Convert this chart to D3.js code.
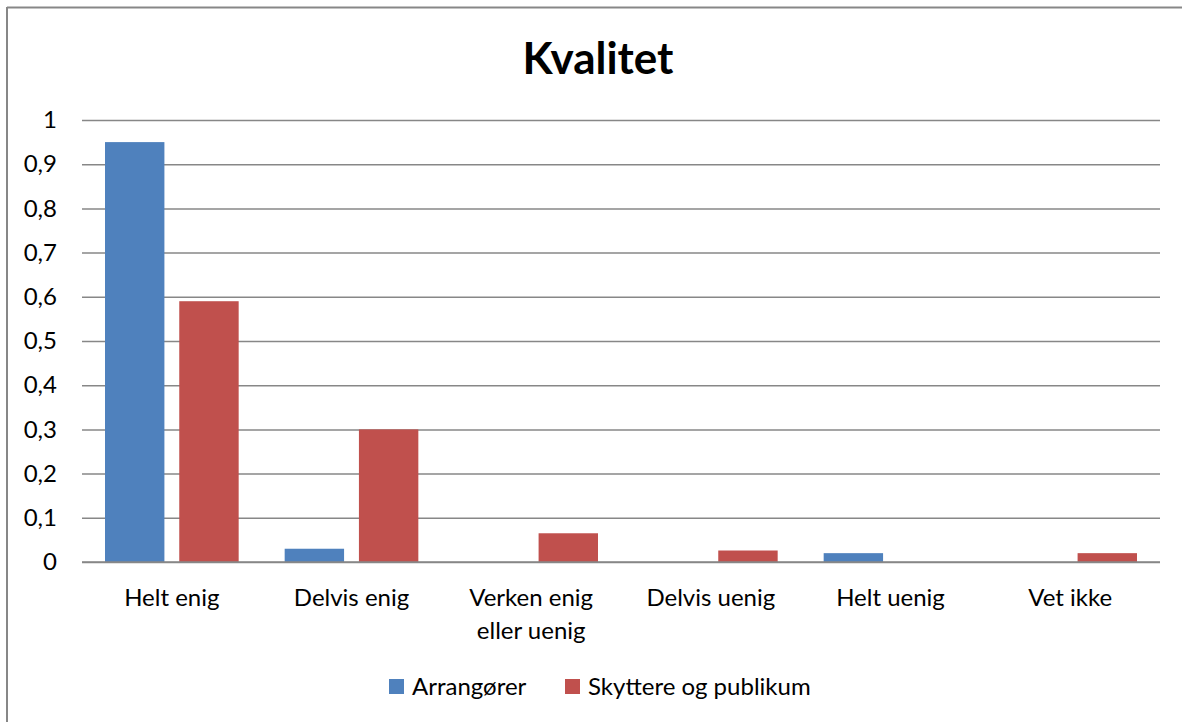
<!DOCTYPE html>
<html>
<head>
<meta charset="utf-8">
<script src="https://cdn.jsdelivr.net/npm/d3@7"></script>
<style>
  html, body { margin: 0; padding: 0; background: #fff; }
  svg { display: block; }
  text { font-family: Lato, "Open Sans", sans-serif; fill: #000; }
</style>
</head>
<body>
<svg id="chart" width="1182" height="722"></svg>
<script>
const title = "Kvalitet";
const categories = [["Helt enig"], ["Delvis enig"], ["Verken enig", "eller uenig"], ["Delvis uenig"], ["Helt uenig"], ["Vet ikke"]];
const seriesNames = ["Arrangører", "Skyttere og publikum"];
const arrangorer = [0.95, 0.03, 0, 0, 0.02, 0];
const skyttere = [0.59, 0.30, 0.065, 0.026, 0, 0.02];
const yTicks = [0, 0.1, 0.2, 0.3, 0.4, 0.5, 0.6, 0.7, 0.8, 0.9, 1];
const colors = ["#4F81BD", "#C0504D"];

const seriesValues = [arrangorer, skyttere];
const svg = d3.select("#chart");

// chart border (top and left visible)
svg.append("line").attr("x1", 7).attr("x2", 1182).attr("y1", 7.5).attr("y2", 7.5)
  .attr("stroke", "#878787").attr("stroke-width", 2);
svg.append("line").attr("x1", 7).attr("x2", 7).attr("y1", 7).attr("y2", 722)
  .attr("stroke", "#878787").attr("stroke-width", 2);

const plotL = 82, plotR = 1160, plotT = 120, plotB = 562;
const x0 = d3.scaleBand().domain(categories.map((d, i) => i)).range([plotL, plotR]).padding(0);
const bw = x0.bandwidth();
const x1 = d3.scaleBand().domain(seriesNames).range([23, bw - 23]).paddingInner(0.2).paddingOuter(0);
const y = d3.scaleLinear().domain([0, 1]).range([plotB, plotT]);

// title
svg.append("text").attr("x", 598).attr("y", 74).attr("text-anchor", "middle")
  .attr("font-size", 44).attr("font-weight", "bold").text(title);

// gridlines
const yAxis = d3.axisLeft(y).tickValues(yTicks).tickSize(-(plotR - plotL)).tickPadding(25)
  .tickFormat(d => String(d).replace(".", ","));
const gAxis = svg.append("g").attr("transform", `translate(${plotL},0)`).call(yAxis);
gAxis.select(".domain").remove();
gAxis.selectAll(".tick line").attr("stroke", "#878787").attr("stroke-width", 1.5);
gAxis.selectAll(".tick text").attr("font-size", 24).attr("fill", "#000")
  .style("font-family", "Lato, 'Open Sans', sans-serif");

// bars
seriesNames.forEach((s, si) => {
  svg.append("g").selectAll("rect").data(seriesValues[si]).join("rect")
    .attr("x", (d, i) => x0(i) + x1(s))
    .attr("width", x1.bandwidth())
    .attr("y", d => y(d))
    .attr("height", d => y(0) - y(d))
    .attr("fill", colors[si]);
});

// baseline
svg.append("line").attr("x1", plotL).attr("x2", plotR).attr("y1", y(0)).attr("y2", y(0))
  .attr("stroke", "#878787").attr("stroke-width", 1.5);

// category labels
const cat = svg.append("g");
categories.forEach((lines, i) => {
  const t = cat.append("text").attr("text-anchor", "middle").attr("font-size", 24)
    .attr("x", x0(i) + bw / 2).attr("y", 606);
  lines.forEach((ln, li) => {
    t.append("tspan").attr("x", x0(i) + bw / 2).attr("dy", li === 0 ? 0 : 33).text(ln);
  });
});

// legend
const legendItems = [{ x: 389, tx: 412 }, { x: 565, tx: 588 }];
seriesNames.forEach((s, si) => {
  svg.append("rect").attr("x", legendItems[si].x).attr("y", 679).attr("width", 15).attr("height", 15)
    .attr("fill", colors[si]);
  svg.append("text").attr("x", legendItems[si].tx).attr("y", 695).attr("font-size", 24).text(s);
});
</script>
</body>
</html>
